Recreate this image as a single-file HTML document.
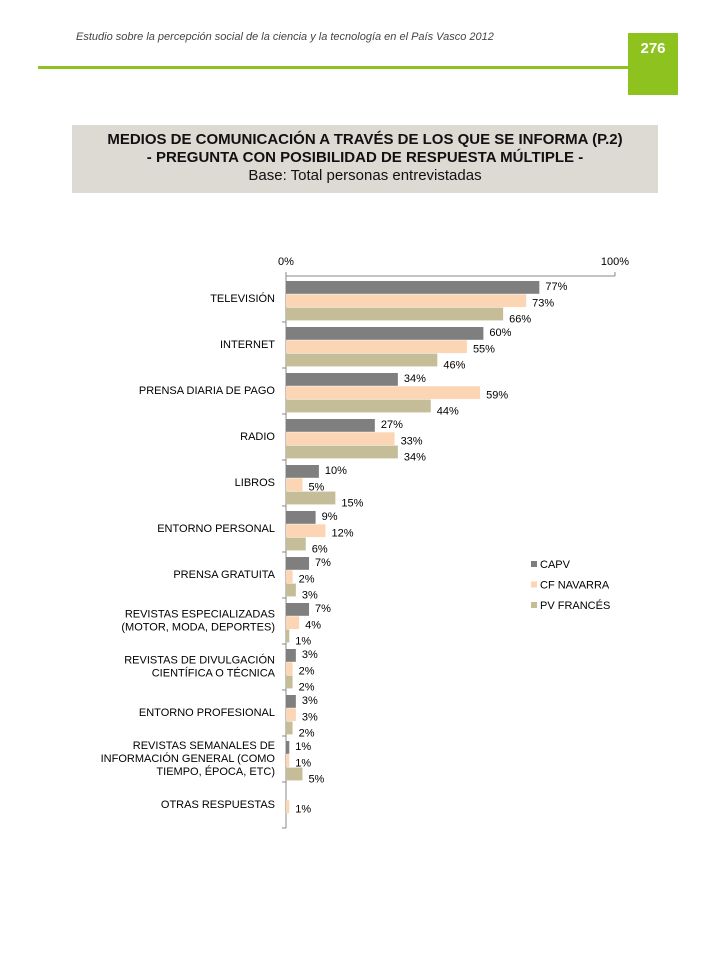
<!DOCTYPE html>
<html><head><meta charset="utf-8"><style>
body{margin:0;width:720px;height:960px;background:#fff;position:relative;font-family:"Liberation Sans",sans-serif;overflow:hidden}
.hdr{position:absolute;left:76px;top:31px;font-size:11px;font-style:italic;color:#444}
.gl{position:absolute;left:38px;top:66px;width:592px;height:3px;background:#8dc21f}
.gb{position:absolute;left:628px;top:33px;width:50px;height:62px;background:#8dc21f;color:#fff;font-weight:bold;font-size:15px;text-align:center;line-height:32px}
.tb{position:absolute;left:72px;top:125px;width:586px;height:68px;background:#ddd9d3;text-align:center;color:#111;font-size:15px;line-height:18px;padding-top:6px;box-sizing:border-box}
</style></head><body>
<div class="hdr">Estudio sobre la percepción social de la ciencia y la tecnología en el País Vasco 2012</div>
<div class="gl"></div>
<div class="gb">276</div>
<div class="tb"><b>MEDIOS DE COMUNICACIÓN A TRAVÉS DE LOS QUE SE INFORMA (P.2)<br>- PREGUNTA CON POSIBILIDAD DE RESPUESTA MÚLTIPLE -</b><br>Base: Total personas entrevistadas</div>
<svg id="chart" width="720" height="960" style="position:absolute;left:0;top:0"></svg>
<script>
const categories=[["TELEVISIÓN"],["INTERNET"],["PRENSA DIARIA DE PAGO"],["RADIO"],["LIBROS"],["ENTORNO PERSONAL"],["PRENSA GRATUITA"],["REVISTAS ESPECIALIZADAS","(MOTOR, MODA, DEPORTES)"],["REVISTAS DE DIVULGACIÓN","CIENTÍFICA O TÉCNICA"],["ENTORNO PROFESIONAL"],["REVISTAS SEMANALES DE","INFORMACIÓN GENERAL (COMO","TIEMPO, ÉPOCA, ETC)"],["OTRAS RESPUESTAS"]];
const capv=[77,60,34,27,10,9,7,7,3,3,1,null];
const navarra=[73,55,59,33,5,12,2,4,2,3,1,1];
const pvfrances=[66,46,44,34,15,6,3,1,2,2,5,null];
const seriesNames=["CAPV","CF NAVARRA","PV FRANCÉS"];
const tickLabels=["0%","100%"];
const tickValues=[0,100];
const colors=["#7f7f7f","#fcd5b5","#c4bd97"];
const svg=document.getElementById('chart');const NS="http://www.w3.org/2000/svg";
const x0=286,x1=615,top0=276,pitch=46,bh=13.3;
const X=v=>x0+(x1-x0)*v/100;
const Y=(i,s)=>top0+5+i*pitch+s*bh;
function mk(t,a){const e=document.createElementNS(NS,t);for(const k in a)e.setAttribute(k,a[k]);svg.appendChild(e);return e;}
let e;
e=mk('line',{x1:x0,y1:top0,x2:x1,y2:top0,stroke:'#888'});


e=mk('line',{x1:x0,y1:top0,x2:x0,y2:top0+pitch*categories.length,stroke:'#888'});


tickValues.forEach((v,i)=>{
 e=mk('line',{x1:X(v),y1:top0-4,x2:X(v),y2:top0,stroke:'#888'});
 
 
 e=mk('text',{x:X(v),y:top0-11,'font-size':11,'text-anchor':'middle',fill:'#000'});e.textContent=tickLabels[i];
 
 
});
const all=[capv,navarra,pvfrances];
categories.forEach((lines,i)=>{
 e=mk('line',{x1:x0-4,y1:top0+(i+1)*pitch,x2:x0,y2:top0+(i+1)*pitch,stroke:'#888'});
 
 
 const cy=top0+i*pitch+pitch/2-1;
 lines.forEach((l,k)=>{
  e=mk('text',{x:275,y:cy+4+(k-(lines.length-1)/2)*13,'font-size':11,'text-anchor':'end',fill:'#000'});e.textContent=l;
  
  
 });
 all.forEach((arr,s)=>{
  const v=arr[i];if(v==null)return;
  e=mk('rect',{x:x0,y:Y(i,s),width:X(v)-x0,height:bh-0.5,fill:colors[s]});
  
  
  e=mk('text',{x:X(v)+6,y:Y(i,s)+10+(s==0?-1:s==2?5:2),'font-size':11,fill:'#000'});e.textContent=v+'%';
  
  
 });
});
seriesNames.forEach((n,s)=>{
 const ly=561+s*20.5;
 e=mk('rect',{x:531,y:ly,width:6,height:6,fill:colors[s]});
 
 
 e=mk('text',{x:540,y:ly+7,'font-size':11,fill:'#000'});e.textContent=n;
 
 
});
</script>
</body></html>
